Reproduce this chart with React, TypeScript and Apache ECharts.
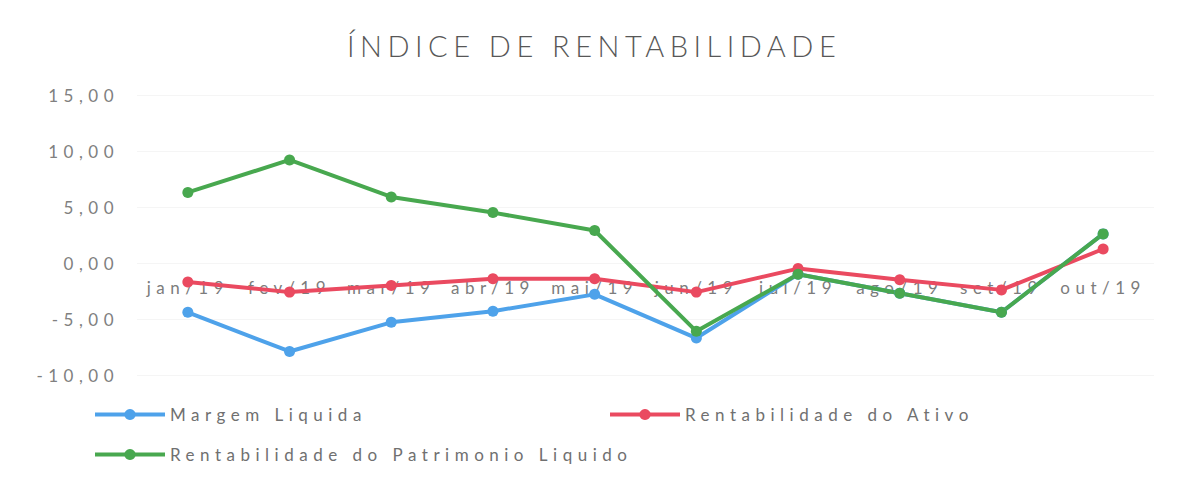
import React, { useEffect, useRef } from "react";
import * as echarts from "echarts";

const months = ["jan/19", "fev/19", "mar/19", "abr/19", "mai/19", "jun/19", "jul/19", "ago/19", "set/19", "out/19"];
const margemLiquida = [-4.4, -7.9, -5.3, -4.3, -2.8, -6.7, -1.0, -2.7, -4.4, 2.6];
const rentAtivo = [-1.7, -2.6, -2.0, -1.4, -1.4, -2.6, -0.5, -1.5, -2.4, 1.25];
const rentPL = [6.3, 9.2, 5.9, 4.5, 2.9, -6.1, -1.0, -2.7, -4.4, 2.6];
const yTicks = [-10, -5, 0, 5, 10, 15];

const FONT = "Lato";
const BLUE = "#4ea2ea";
const RED = "#ea4a60";
const GREEN = "#48a84f";

export default function App() {
  const ref = useRef<HTMLDivElement>(null);
  useEffect(() => {
    document.body.style.margin = "0";
    if (!ref.current) return;
    const chart = echarts.init(ref.current, null, { renderer: "svg" });
    const mk = (name: string, data: number[], color: string) => ({
      name,
      type: "line",
      data,
      symbol: "circle",
      symbolSize: 11,
      lineStyle: { width: 4, color },
      itemStyle: { color },
    });
    const legendCommon = {
      itemWidth: 70,
      itemHeight: 14,
      padding: 0,
      lineStyle: { width: 4 },
      textStyle: { fontFamily: FONT, fontSize: 17, color: "#707070" },
    };
    // distance (px) from the grid bottom (y = -10) up to the zero line
    const gridTop = 95;
    const gridBottom = 102;
    const plotH = 477 - gridTop - gridBottom;
    const zeroOffset = -(plotH * (0 - yTicks[0])) / (yTicks[yTicks.length - 1] - yTicks[0]);
    chart.setOption({
      animation: false,
      backgroundColor: "#ffffff",
      title: {
        text: "ÍNDICE DE RENTABILIDADE",
        left: 347,
        top: 31,
        padding: 0,
        textStyle: { fontFamily: FONT, fontSize: 29, fontWeight: 300, color: "#575757" },
      },
      legend: [
        { ...legendCommon, left: 93, top: 406, data: ["Margem Liquida"] },
        { ...legendCommon, left: 608, top: 406, data: ["Rentabilidade do Ativo"] },
        { ...legendCommon, left: 93, top: 446, data: ["Rentabilidade do Patrimonio Liquido"] },
      ],
      grid: { left: 137, right: 23, top: gridTop, bottom: gridBottom },
      xAxis: {
        type: "category",
        data: months,
        boundaryGap: true,
        position: "bottom",
        offset: zeroOffset,
        axisLine: { show: false },
        axisTick: { show: false },
        axisLabel: { fontFamily: FONT, fontSize: 17, color: "#7c7c7c", margin: 16 },
      },
      yAxis: {
        type: "value",
        min: yTicks[0],
        max: yTicks[yTicks.length - 1],
        interval: 5,
        axisLine: { show: false },
        axisTick: { show: false },
        splitLine: { show: true, lineStyle: { color: "#f5f5f5", width: 1 } },
        axisLabel: {
          fontFamily: FONT,
          fontSize: 17,
          color: "#808080",
          margin: 18,
          formatter: (v: number) => v.toFixed(2).replace(".", ","),
        },
      },
      series: [
        mk("Margem Liquida", margemLiquida, BLUE),
        mk("Rentabilidade do Ativo", rentAtivo, RED),
        mk("Rentabilidade do Patrimonio Liquido", rentPL, GREEN),
      ],
    });
    return () => chart.dispose();
  }, []);
  return (
    <>
      <style>{"#root svg text { letter-spacing: 5.5px; }"}</style>
      <div ref={ref} style={{ width: 1177, height: 477 }} />
    </>
  );
}
